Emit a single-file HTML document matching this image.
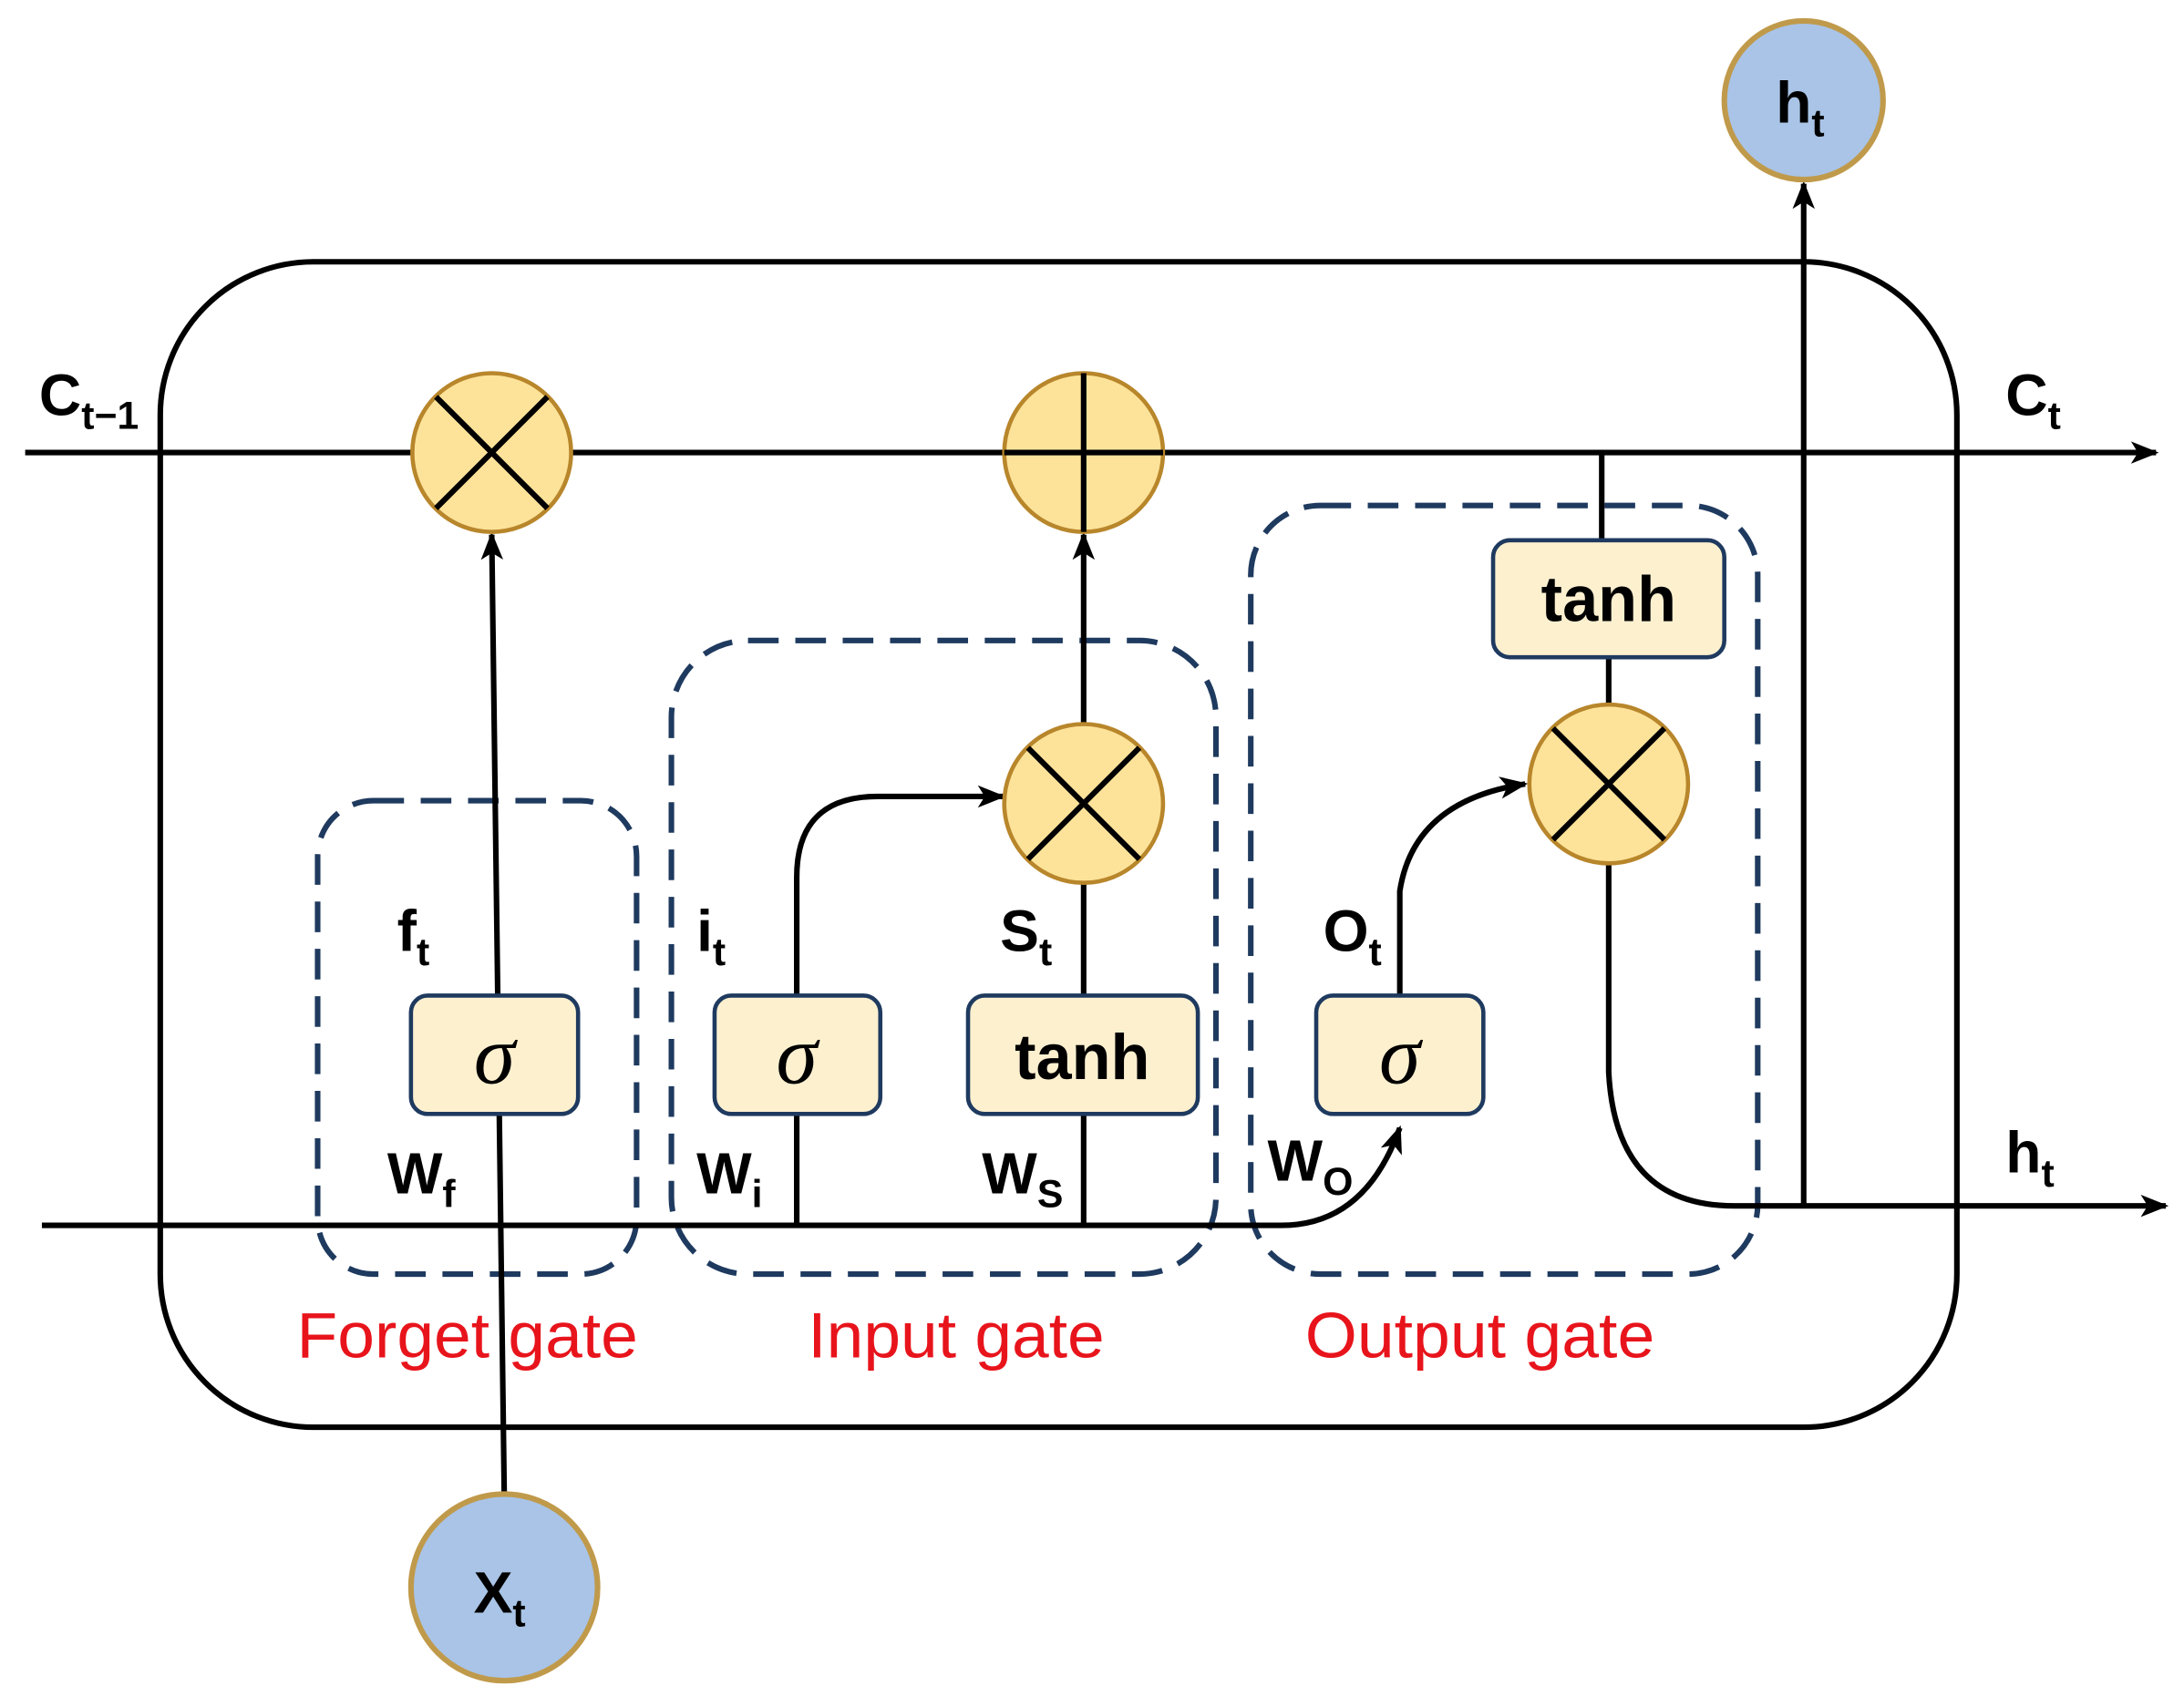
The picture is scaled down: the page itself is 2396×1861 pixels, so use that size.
<!DOCTYPE html>
<html><head><meta charset="utf-8"><style>
html,body{margin:0;padding:0;background:#fff;}
svg{display:block;}
text{font-family:"Liberation Sans",Arial,sans-serif;font-weight:bold;fill:#000;}
.red{fill:#e8141c;font-weight:normal;font-size:46px;}
.sig{font-family:"Liberation Serif",serif;font-style:italic;font-weight:normal;font-size:60px;}
</style></head><body>
<svg width="2396" height="1861" viewBox="0 0 1568 1218" xmlns="http://www.w3.org/2000/svg">
<defs>
<marker id="ar2" markerWidth="20" markerHeight="16" refX="18" refY="8" orient="auto" markerUnits="userSpaceOnUse">
<path d="M0,0 L20,8 L0,16 L5,8 z" fill="#000"/></marker>
</defs>
<rect x="115" y="188" width="1290" height="837" rx="110" fill="none" stroke="#000" stroke-width="4"/>
<g fill="none" stroke="#1f3a5f" stroke-width="4" stroke-dasharray="22,12">
<rect x="228" y="575" width="229" height="340" rx="40"/>
<rect x="482" y="460" width="391" height="455" rx="55"/>
<rect x="898" y="363" width="364" height="552" rx="50"/>
</g>
<g stroke="#000" stroke-width="4" fill="none">
<line x1="18" y1="325" x2="1548" y2="325" marker-end="url(#ar2)"/>
<path d="M30,880 L920,880 Q980,880 1005,810" marker-end="url(#ar2)"/>
<path d="M1155,620 L1155,770 Q1160,866 1245,866 L1555,866" marker-end="url(#ar2)"/>
<line x1="1295" y1="866" x2="1295" y2="132" marker-end="url(#ar2)"/>
<line x1="362" y1="1075" x2="353" y2="384" marker-end="url(#ar2)"/>
<line x1="572" y1="880" x2="572" y2="800"/>
<path d="M572,715 L572,630 Q572,572 630,572 L720,572" marker-end="url(#ar2)"/>
<line x1="778" y1="880" x2="778" y2="800"/>
<line x1="778" y1="715" x2="778" y2="634"/>
<line x1="778" y1="520" x2="778" y2="384" marker-end="url(#ar2)"/>
<path d="M1005,715 L1005,640 Q1015,575 1095,563" marker-end="url(#ar2)"/>
<line x1="1150" y1="325" x2="1150" y2="388"/>
<line x1="1155" y1="472" x2="1155" y2="506"/>
</g>
<g stroke="#b8862b" stroke-width="3" fill="#fde39a">
<circle cx="353" cy="325" r="57"/>
<circle cx="778" cy="325" r="57"/>
<circle cx="778" cy="577" r="57"/>
<circle cx="1155" cy="563" r="57"/>
</g>
<g stroke="#000" stroke-width="4">
<line x1="313" y1="285" x2="393" y2="365"/><line x1="393" y1="285" x2="313" y2="365"/>
<line x1="778" y1="268" x2="778" y2="382"/><line x1="721" y1="325" x2="835" y2="325"/>
<line x1="738" y1="537" x2="818" y2="617"/><line x1="818" y1="537" x2="738" y2="617"/>
<line x1="1115" y1="523" x2="1195" y2="603"/><line x1="1195" y1="523" x2="1115" y2="603"/>
</g>
<circle cx="1295" cy="72" r="57" fill="#a9c4e6" stroke="#c09a4b" stroke-width="4"/>
<circle cx="362" cy="1140" r="67" fill="#a9c4e6" stroke="#c09a4b" stroke-width="4"/>
<g fill="#fdf0cf" stroke="#1f3a5f" stroke-width="3">
<rect x="295" y="715" width="120" height="85" rx="12"/>
<rect x="513" y="715" width="119" height="85" rx="12"/>
<rect x="695" y="715" width="165" height="85" rx="12"/>
<rect x="945" y="715" width="120" height="85" rx="12"/>
<rect x="1072" y="388" width="166" height="84" rx="12"/>
</g>
<text class="sig" x="355" y="778" text-anchor="middle">σ</text>
<text class="sig" x="572" y="778" text-anchor="middle">σ</text>
<text class="sig" x="1005" y="778" text-anchor="middle">σ</text>
<text x="777" y="775" font-size="46" text-anchor="middle">tanh</text>
<text x="1155" y="446" font-size="46" text-anchor="middle">tanh</text>
<g font-size="42">
<text x="28" y="298">C<tspan font-size="28" dy="10">t−1</tspan></text>
<text x="1440" y="298">C<tspan font-size="28" dy="10">t</tspan></text>
<text x="1275" y="88">h<tspan font-size="28" dy="10">t</tspan></text>
<text x="1440" y="842">h<tspan font-size="28" dy="10">t</tspan></text>
<text x="340" y="1158">X<tspan font-size="28" dy="10">t</tspan></text>
<text x="285" y="683">f<tspan font-size="28" dy="10">t</tspan></text>
<text x="278" y="857">W<tspan font-size="28" dy="10">f</tspan></text>
<text x="500" y="683">i<tspan font-size="28" dy="10">t</tspan></text>
<text x="500" y="857">W<tspan font-size="28" dy="10">i</tspan></text>
<text x="718" y="683">S<tspan font-size="28" dy="10">t</tspan></text>
<text x="705" y="857">W<tspan font-size="28" dy="10">S</tspan></text>
<text x="950" y="683">O<tspan font-size="28" dy="10">t</tspan></text>
<text x="910" y="848">W<tspan font-size="28" dy="10">O</tspan></text>
</g>
<text class="red" x="213" y="975" textLength="245" lengthAdjust="spacingAndGlyphs">Forget gate</text>
<text class="red" x="580" y="975" textLength="213" lengthAdjust="spacingAndGlyphs">Input gate</text>
<text class="red" x="937" y="975" textLength="251" lengthAdjust="spacingAndGlyphs">Output gate</text>
</svg>
</body></html>
